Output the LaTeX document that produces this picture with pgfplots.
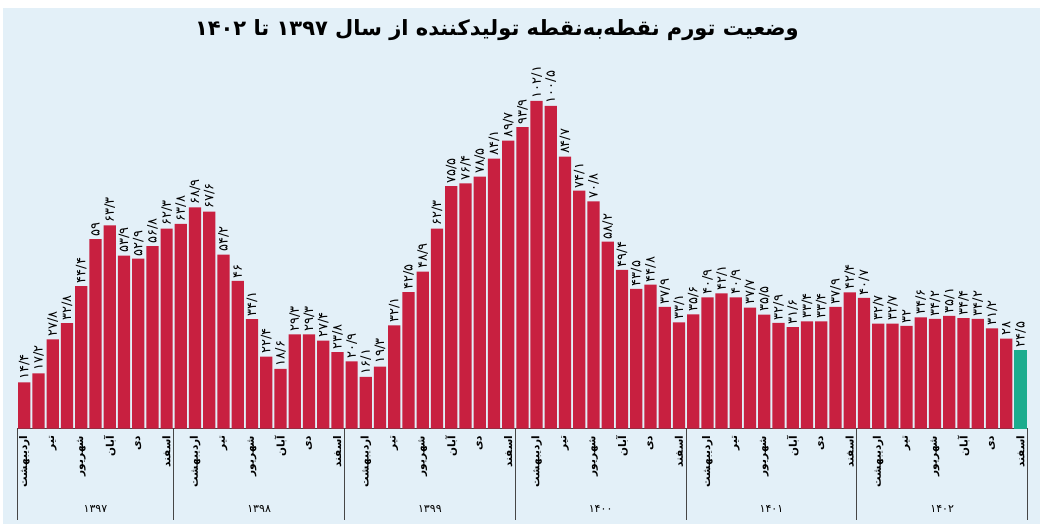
\documentclass[border=0pt]{standalone}
\usepackage{fontspec}
\usepackage{pgfplots}
\pgfplotsset{compat=1.18}
\usepackage{pgfplotstable}
\TeXXeTstate=1
\newfontfamily\arabicfont[Script=Arabic]{DejaVu Sans}
\newfontfamily\digitfont{DejaVu Sans}
\definecolor{barred}{RGB}{200,32,64}
\definecolor{barteal}{RGB}{28,172,142}
\definecolor{bgblue}{RGB}{227,240,248}
\definecolor{axisgray}{RGB}{70,70,70}
\newcommand{\fa}[1]{{\arabicfont\beginR #1\endR}}
\newcommand{\mA}{\fa{اردیبهشت}}
\newcommand{\mB}{\fa{تیر}}
\newcommand{\mC}{\fa{شهریور}}
\newcommand{\mD}{\fa{آبان}}
\newcommand{\mE}{\fa{دی}}
\newcommand{\mF}{\fa{اسفند}}

\pgfplotstableread{
x y lab
1 14.4 ۱۴/۴
2 17.2 ۱۷/۲
3 27.8 ۲۷/۸
4 32.8 ۳۲/۸
5 44.4 ۴۴/۴
6 59 ۵۹
7 63.3 ۶۳/۳
8 53.9 ۵۳/۹
9 52.9 ۵۲/۹
10 56.8 ۵۶/۸
11 62.3 ۶۲/۳
12 63.8 ۶۳/۸
13 68.9 ۶۸/۹
14 67.6 ۶۷/۶
15 54.2 ۵۴/۲
16 46 ۴۶
17 34.1 ۳۴/۱
18 22.4 ۲۲/۴
19 18.6 ۱۸/۶
20 29.3 ۲۹/۳
21 29.3 ۲۹/۳
22 27.4 ۲۷/۴
23 23.8 ۲۳/۸
24 20.9 ۲۰/۹
25 16.1 ۱۶/۱
26 19.3 ۱۹/۳
27 32.1 ۳۲/۱
28 42.5 ۴۲/۵
29 48.9 ۴۸/۹
30 62.3 ۶۲/۳
31 75.5 ۷۵/۵
32 76.4 ۷۶/۴
33 78.5 ۷۸/۵
34 84.1 ۸۴/۱
35 89.7 ۸۹/۷
36 93.9 ۹۳/۹
37 102.1 ۱۰۲/۱
38 100.5 ۱۰۰/۵
39 84.7 ۸۴/۷
40 74.1 ۷۴/۱
41 70.8 ۷۰/۸
42 58.2 ۵۸/۲
43 49.4 ۴۹/۴
44 43.5 ۴۳/۵
45 44.8 ۴۴/۸
46 37.9 ۳۷/۹
47 33.1 ۳۳/۱
48 35.6 ۳۵/۶
49 40.9 ۴۰/۹
50 42.1 ۴۲/۱
51 40.9 ۴۰/۹
52 37.7 ۳۷/۷
53 35.5 ۳۵/۵
54 32.9 ۳۲/۹
55 31.6 ۳۱/۶
56 33.4 ۳۳/۴
57 33.4 ۳۳/۴
58 37.9 ۳۷/۹
59 42.4 ۴۲/۴
60 40.7 ۴۰/۷
61 32.7 ۳۲/۷
62 32.7 ۳۲/۷
63 32 ۳۲
64 34.6 ۳۴/۶
65 34.2 ۳۴/۲
66 35.1 ۳۵/۱
67 34.4 ۳۴/۴
68 34.2 ۳۴/۲
69 31.2 ۳۱/۲
70 28 ۲۸
}\dataA

\pgfplotstableread{
x y lab
71 24.5 ۲۴/۵
}\dataB

\begin{document}
\begin{tikzpicture}
\path[use as bounding box] (0,0) rectangle (1040pt,528pt);
\fill[white] (0,0) rectangle (1040pt,528pt);
\fill[bgblue] (3pt,4pt) rectangle (1040pt,520pt);
\node at (497pt,498pt) {\bfseries\fontsize{21}{24}\selectfont\fa{وضعیت تورم نقطه^^^^200cبه^^^^200cنقطه تولیدکننده از سال ۱۳۹۷ تا ۱۴۰۲}};
\begin{axis}[
  at={(17.2pt,99.5pt)}, anchor=south west,
  scale only axis, width=1010.4pt, height=353pt,
  xmin=0.5, xmax=71.5, ymin=0, ymax=110,
  axis x line*=bottom, axis y line=none,
  x axis line style={axisgray, line width=0.8pt, -},
  clip=false,
  ybar, bar width=0.86,
  xtick={1,3,...,71},
  xticklabels={\mA,\mB,\mC,\mD,\mE,\mF,\mA,\mB,\mC,\mD,\mE,\mF,\mA,\mB,\mC,\mD,\mE,\mF,\mA,\mB,\mC,\mD,\mE,\mF,\mA,\mB,\mC,\mD,\mE,\mF,\mA,\mB,\mC,\mD,\mE,\mF},
  major tick length=0pt,
  xticklabel style={rotate=90, anchor=east, font=\bfseries\fontsize{10.5}{11}\selectfont, inner sep=0pt},
  xticklabel shift=7pt,
  extra x ticks={0.5,11.5,23.5,35.5,47.5,59.5,71.5},
  extra x tick labels={},
  extra x tick style={major tick length=91pt, tick align=outside, tick style={axisgray, line width=0.8pt}},
  nodes near coords,
  point meta=explicit symbolic,
  every node near coord/.append style={rotate=90, anchor=west, inner sep=2.5pt, font=\digitfont\fontsize{13}{13}\selectfont, text=black},
]
\addplot[fill=barred, draw=none, bar shift=0pt] table[x=x, y=y, meta=lab] {\dataA};
\addplot[fill=barteal, draw=none, bar shift=0pt] table[x=x, y=y, meta=lab] {\dataB};
\node[font=\digitfont\fontsize{11}{12}\selectfont] at (axis cs:6,0) [yshift=-80.5pt] {۱۳۹۷};
\node[font=\digitfont\fontsize{11}{12}\selectfont] at (axis cs:17.5,0) [yshift=-80.5pt] {۱۳۹۸};
\node[font=\digitfont\fontsize{11}{12}\selectfont] at (axis cs:29.5,0) [yshift=-80.5pt] {۱۳۹۹};
\node[font=\digitfont\fontsize{11}{12}\selectfont] at (axis cs:41.5,0) [yshift=-80.5pt] {۱۴۰۰};
\node[font=\digitfont\fontsize{11}{12}\selectfont] at (axis cs:53.5,0) [yshift=-80.5pt] {۱۴۰۱};
\node[font=\digitfont\fontsize{11}{12}\selectfont] at (axis cs:65.5,0) [yshift=-80.5pt] {۱۴۰۲};
\end{axis}
\end{tikzpicture}
\end{document}
